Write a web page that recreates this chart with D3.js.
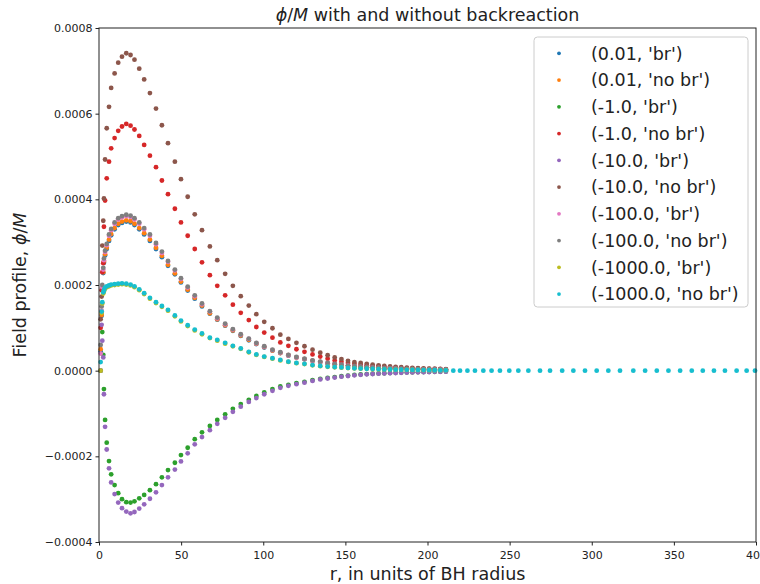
<!DOCTYPE html>
<html>
<head>
<meta charset="utf-8">
<script src="https://cdn.jsdelivr.net/npm/d3@7"></script>
<style>
  html, body { margin: 0; padding: 0; background: #fff; }
  svg { display: block; font-family: "DejaVu Sans", sans-serif; }
</style>
</head>
<body>
<svg id="chart" width="760" height="584"></svg>
<script>
// Radial grid, in units of the BH radius
const radius = [
  1.0, 1.6, 2.0, 2.6, 3.0, 3.7, 4.7, 6.1, 7.4, 9.5,
  11.7, 14.0, 16.6, 19.2, 21.6, 24.5, 27.5, 31.0, 34.7, 38.3,
  42.0, 46.2, 49.9, 54.0, 58.3, 62.7, 67.5, 72.0, 76.8, 81.5,
  86.3, 91.2, 95.8, 100.6, 105.6, 110.4, 115.3, 120.2, 125.1, 130.0,
  134.7, 139.2, 143.5, 147.6, 151.6, 155.5, 159.3, 163.0, 166.6, 170.2,
  173.7, 177.2, 180.6, 184.0, 187.4, 190.8, 194.2, 197.6, 201.0, 204.4,
  207.8, 211.2,
  215.7, 219.8, 224.3, 228.9, 234.0, 239.0, 244.1, 249.8, 255.3, 261.4,
  268.5, 274.6, 282.0, 288.8, 295.9, 303.0, 310.1, 317.2, 325.3, 332.5,
  339.6, 346.7, 353.8, 360.9, 367.6, 374.4, 381.1, 388.2, 394.3, 399.4
];

// Field profiles phi/M, in units of 1e-6, one entry per radius
const br001 = [
  45, 128, 188, 228, 252, 269, 284, 303, 316, 330,
  340, 345, 348, 346, 340, 330, 318, 303, 284, 265,
  245, 225, 206, 187, 168, 150, 133, 119, 105, 93,
  81, 71, 62, 54, 47, 41, 35, 30.5, 26.5, 23,
  20, 17, 15, 13, 11.4, 10, 8.7, 7.7, 6.9, 6.2,
  5.6, 5.0, 4.5, 4.1, 3.7, 3.4, 3.1, 2.8, 2.5, 2.3,
  2.1, 1.9
];
const nobr001 = [
  50, 130, 190, 230, 255, 272, 287, 306, 319, 333,
  343, 348, 351, 349, 343, 333, 321, 306, 287, 268,
  247, 227, 208, 189, 170, 152, 134, 120, 106, 94,
  82, 72, 63, 55, 47, 41, 36, 31, 27, 23,
  20, 17, 15, 13, 11.5, 10, 8.8, 7.8, 7.0, 6.3,
  5.7, 5.1, 4.6, 4.2, 3.8, 3.4, 3.1, 2.8, 2.6, 2.4,
  2.2, 2.0
];
const brM1 = [
  0, 138, 90, 37, -43, -115, -168, -211, -242, -267,
  -286, -300, -307, -308, -305, -298, -290, -279, -265, -249,
  -232, -215, -197, -180, -160, -144, -129, -115, -102, -89,
  -78, -68, -59, -51, -43, -37, -33, -29, -26, -22,
  -19, -17, -15, -13, -11.5, -10, -9, -8, -7.2, -6.5,
  -6.0, -5.5, -5.0, -4.5, -4.1, -3.8, -3.5, -3.2, -2.9, -2.6,
  -2.4, -2.2
];
const nobrM1 = [
  100, 188, 230, 251, 336, 397, 449, 488, 519, 543,
  560, 570, 576, 572, 563, 548, 527, 502, 475, 444,
  412, 378, 346, 315, 284, 253, 223, 198, 176, 154,
  135, 118, 102, 89, 77, 66, 58, 50, 44, 38,
  33, 28, 24, 21, 18, 16, 14, 12.5, 11, 10,
  9, 8, 7.2, 6.5, 5.8, 5.3, 4.8, 4.4, 4.0, 3.6,
  3.3, 3.0
];
const brM10 = [
  0, 107, 70, 31, -55, -131, -184, -228, -261, -288,
  -308, -321, -329, -333, -330, -322, -312, -299, -284, -267,
  -249, -231, -212, -193, -172, -155, -139, -124, -110, -96,
  -84, -73, -64, -55, -47, -40, -35.5, -31.5, -28, -24,
  -20.5, -18.3, -16.2, -14, -12.4, -10.8, -9.7, -8.6, -7.8, -7.0,
  -6.5, -5.9, -5.4, -4.9, -4.4, -4.1, -3.8, -3.5, -3.1, -2.8,
  -2.6, -2.4
];
const nobrM10 = [
  120, 173, 292, 350, 402, 493, 566, 616, 660, 694,
  719, 733, 741, 737, 726, 705, 680, 648, 612, 573,
  531, 488, 447, 406, 365, 328, 290, 258, 226, 198,
  174, 152, 132, 114, 99, 84, 74, 65, 57, 49,
  42, 36, 31, 27, 23, 20, 18, 16, 14, 12.5,
  11, 10, 9, 8, 7.2, 6.6, 6.0, 5.5, 5.0, 4.6,
  4.2, 3.8
];
const brM100 = [
  40, 140, 195, 236, 258, 277, 293, 315, 328, 343,
  353, 358, 361, 359, 353, 343, 330, 315, 295, 275,
  254, 234, 214, 194, 174, 155, 138, 122, 108, 96,
  84, 74, 64, 56, 48, 42, 36, 31, 27, 23,
  20, 17.5, 15.5, 13.5, 11.5, 10, 9, 8, 7.1, 6.4,
  5.8, 5.2, 4.7, 4.2, 3.8, 3.5, 3.2, 2.9, 2.6, 2.4,
  2.2, 2.0
];
const nobrM100 = [
  60, 150, 200, 240, 262, 280, 296, 318, 331, 346,
  356, 361, 364, 362, 356, 346, 333, 318, 298, 278,
  256, 236, 216, 196, 176, 157, 139, 124, 110, 97,
  85, 75, 65, 57, 49, 43, 37, 32, 28, 24,
  21, 18, 16, 14, 12, 10.5, 9.2, 8.2, 7.3, 6.6,
  6.0, 5.4, 4.9, 4.4, 4.0, 3.6, 3.3, 3.0, 2.7, 2.5,
  2.3, 2.1
];
const brM1000 = [
  0, 135, 157, 180, 185, 191, 195, 197, 199, 200,
  201, 202, 201, 199, 195, 188, 179, 168, 158, 149,
  140, 127, 115, 104, 94, 85, 76, 70, 63, 57,
  51, 43, 37, 32, 28, 24, 20.5, 17.5, 15.5, 12.5,
  10.5, 9, 8, 7, 6, 5.2, 4.7, 4.2, 3.7, 3.3,
  2.8, 2.5, 2.2, 2.0, 1.8, 1.6, 1.4, 1.2, 1.0, 0.9,
  0.8, 0.7
];
const nobrM1000 = [
  20, 138, 160, 183, 188, 194, 197, 199, 201, 202,
  203, 204, 203, 201, 197, 190, 181, 170, 160, 151,
  142, 129, 117, 106, 96, 87, 77, 72, 65, 58,
  52, 44, 38, 33, 29, 25, 21, 18, 16, 13,
  11, 9.5, 8.5, 7.5, 6.5, 5.5, 5.0, 4.5, 4.0, 3.5,
  3.0, 2.7, 2.4, 2.1, 1.9, 1.7, 1.5, 1.3, 1.1, 1.0,
  0.9, 0.8,
  0, 0, 0, 0, 0, 0, 0, 0, 0, 0,
  0, 0, 0, 0, 0, 0, 0, 0, 0, 0,
  0, 0, 0, 0, 0, 0, 0, 0, 0, 0
];

const seriesLabels = [
  "(0.01, 'br')", "(0.01, 'no br')",
  "(-1.0, 'br')", "(-1.0, 'no br')",
  "(-10.0, 'br')", "(-10.0, 'no br')",
  "(-100.0, 'br')", "(-100.0, 'no br')",
  "(-1000.0, 'br')", "(-1000.0, 'no br')"
];
const seriesValues = [br001, nobr001, brM1, nobrM1, brM10, nobrM10, brM100, nobrM100, brM1000, nobrM1000];
const seriesColors = ["#1f77b4", "#ff7f0e", "#2ca02c", "#d62728", "#9467bd",
                      "#8c564b", "#e377c2", "#7f7f7f", "#bcbd22", "#17becf"];

const xTicks = [0, 50, 100, 150, 200, 250, 300, 350, 400];
const yTicks = [-0.0004, -0.0002, 0, 0.0002, 0.0004, 0.0006, 0.0008];

const svg = d3.select("#chart");
const W = 760, H = 584;
const m = { left: 99, right: 4, top: 28, bottom: 42 };

const x = d3.scaleLinear().domain([0, 400]).range([m.left, W - m.right]);
const y = d3.scaleLinear().domain([-0.0004, 0.0008]).range([H - m.bottom, m.top]);

svg.append("rect").attr("width", W).attr("height", H).attr("fill", "#fff");

// points
const plot = svg.append("g");
seriesValues.forEach((vals, k) => {
  const pts = vals.map((v, i) => [radius[i], v * 1e-6]);
  plot.append("g")
    .selectAll("circle")
    .data(pts)
    .join("circle")
    .attr("cx", d => x(d[0]))
    .attr("cy", d => y(d[1]))
    .attr("r", 2.4)
    .attr("fill", seriesColors[k]);
});

// frame
svg.append("rect")
  .attr("x", x(0)).attr("y", y(0.0008))
  .attr("width", x(400) - x(0)).attr("height", y(-0.0004) - y(0.0008))
  .attr("fill", "none").attr("stroke", "#222").attr("stroke-width", 1);

// axes
const xAxis = svg.append("g")
  .attr("transform", `translate(0,${y(-0.0004)})`)
  .call(d3.axisBottom(x).tickValues(xTicks).tickFormat(d3.format("d")).tickSize(3.5).tickSizeOuter(0));
const yAxis = svg.append("g")
  .attr("transform", `translate(${x(0)},0)`)
  .call(d3.axisLeft(y).tickValues(yTicks).tickFormat(d3.format(".4f")).tickSize(3.5).tickSizeOuter(0));

[xAxis, yAxis].forEach(a => {
  a.select(".domain").remove();
  a.selectAll(".tick line").attr("stroke", "#222");
  a.selectAll(".tick text")
    .attr("fill", "#222")
    .style("font-family", "'DejaVu Sans', sans-serif")
    .style("font-size", "11px");
});
xAxis.selectAll(".tick text").attr("dy", "0.95em");

// title
const title = svg.append("text")
  .attr("x", (x(0) + x(400)) / 2).attr("y", 21)
  .attr("text-anchor", "middle")
  .style("font-size", "17.5px").attr("fill", "#222");
title.append("tspan").style("font-style", "italic").text("ϕ");
title.append("tspan").text("/");
title.append("tspan").style("font-style", "italic").text("M");
title.append("tspan").text(" with and without backreaction");

// axis labels
svg.append("text")
  .attr("x", (x(0) + x(400)) / 2).attr("y", 580)
  .attr("text-anchor", "middle")
  .style("font-size", "17.5px").attr("fill", "#222")
  .text("r, in units of BH radius");

const yl = svg.append("text")
  .attr("transform", `translate(26,${(y(0.0008) + y(-0.0004)) / 2}) rotate(-90)`)
  .attr("text-anchor", "middle")
  .style("font-size", "17.5px").attr("fill", "#222");
yl.append("tspan").text("Field profile, ");
yl.append("tspan").style("font-style", "italic").text("ϕ");
yl.append("tspan").text("/");
yl.append("tspan").style("font-style", "italic").text("M");

// legend
const lg = svg.append("g");
lg.append("rect")
  .attr("x", 534).attr("y", 37).attr("width", 214).attr("height", 270)
  .attr("rx", 3.5).attr("fill", "#fff").attr("fill-opacity", 0.8)
  .attr("stroke", "#cccccc").attr("stroke-width", 1);
const rows = lg.selectAll("g.row").data(seriesLabels).join("g")
  .attr("class", "row")
  .attr("transform", (d, i) => `translate(0,${53.3 + i * 26.75})`);
rows.append("circle").attr("cx", 559).attr("cy", 0).attr("r", 1.9)
  .attr("fill", (d, i) => seriesColors[i]);
rows.append("text").attr("x", 591).attr("y", 6.2)
  .style("font-size", "17.5px").attr("fill", "#222")
  .text(d => d);
</script>
</body>
</html>
